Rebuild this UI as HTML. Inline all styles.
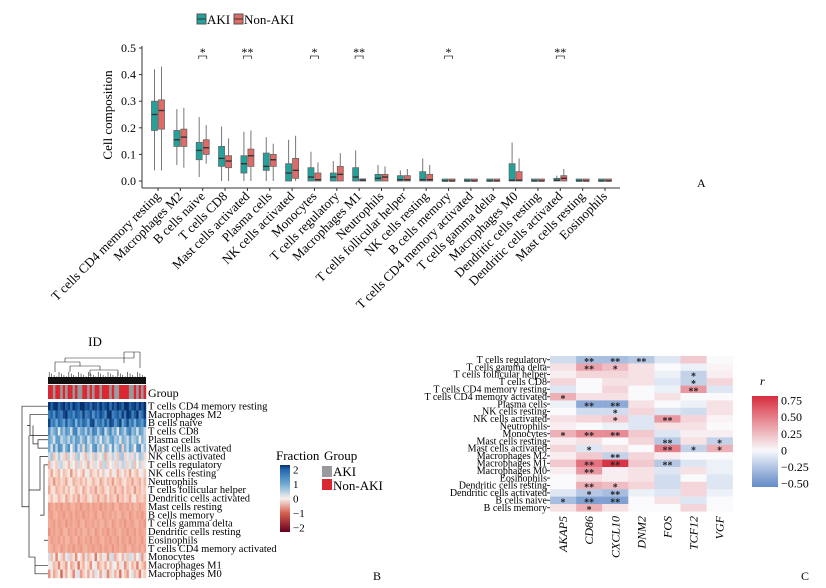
<!DOCTYPE html>
<html><head><meta charset="utf-8"><style>
body{margin:0;background:#fff}
svg{display:block;font-family:"Liberation Serif",serif}
</style></head><body>
<svg id="fig" width="826" height="588" viewBox="0 0 826 588">
<g id="pa"></g>
<g id="pb"></g>
<g id="pc"></g>
</svg>
<script>
// ---------- Panel A data ----------
const catsA=["T cells CD4 memory resting","Macrophages M2","B cells naive","T cells CD8","Mast cells activated","Plasma cells","NK cells activated","Monocytes","T cells regulatory","Macrophages M1","Neutrophils","T cells follicular helper","NK cells resting","B cells memory","T cells CD4 memory activated","T cells gamma delta","Macrophages M0","Dendritic cells resting","Dendritic cells activated","Mast cells resting","Eosinophils"];
// [min,q1,median,q3,max]
const akiBox=[[.04,.19,.25,.30,.42],[.06,.13,.155,.19,.27],[.015,.08,.115,.145,.24],[0,.055,.085,.13,.205],[0,.03,.065,.095,.185],[0,.04,.055,.105,.165],[0,0,.03,.065,.155],[0,0,.015,.05,.11],[0,0,.015,.03,.075],[0,0,.015,.05,.115],[0,0,.01,.025,.06],[0,0,.005,.02,.04],[0,0,.005,.035,.085],[0,0,0,.002,.002],[0,0,0,.002,.002],[0,0,0,.002,.002],[0,0,.003,.065,.145],[0,0,0,.002,.002],[0,0,.003,.01,.02],[0,0,0,.002,.002],[0,0,0,.002,.002]];
const nonBox=[[.04,.195,.265,.305,.43],[.05,.13,.165,.195,.275],[.065,.10,.125,.155,.21],[0,.05,.075,.095,.16],[0,.055,.095,.12,.19],[0,.055,.08,.10,.14],[0,.01,.04,.085,.17],[0,0,.005,.03,.07],[0,0,.025,.055,.105],[0,0,.003,.008,.01],[0,0,.015,.025,.055],[0,0,.005,.02,.045],[0,0,.005,.025,.06],[0,0,0,.002,.002],[0,0,0,.002,.002],[0,0,0,.002,.002],[0,0,.003,.035,.085],[0,0,0,.002,.002],[0,0,.01,.02,.045],[0,0,0,.002,.002],[0,0,0,.002,.002]];
const sigA=["","","*","","**","","","*","","**","","","","*","","","","","**","",""];
const yTicksA=[0,0.1,0.2,0.3,0.4,0.5];

// ---------- Panel B data ----------
const rowsB=["T cells CD4 memory resting","Macrophages M2","B cells naive","T cells CD8","Plasma cells","Mast cells activated","NK cells activated","T cells regulatory","NK cells resting","Neutrophils","T cells follicular helper","Dendritic cells activated","Mast cells resting","B cells memory","T cells gamma delta","Dendritic cells resting","Eosinophils","T cells CD4 memory activated","Monocytes","Macrophages M1","Macrophages M0"];
const rowMeanB=[2.1,1.8,1.5,0.8,0.6,0.5,0.0,-0.1,-0.3,-0.4,-0.4,-0.4,-0.6,-0.6,-0.6,-0.6,-0.6,-0.6,-0.3,-0.4,-0.4];
const rowSpreadB=[0.3,0.5,0.7,0.8,0.6,0.9,0.6,0.5,0.4,0.3,0.3,0.3,0.1,0.1,0.1,0.1,0.1,0.1,0.6,0.5,0.6];
const colDevB=[0.8,-0.3,0.5,1,-0.6,0.2,0.9,-0.2,0.4,-0.8,0.6,0.1,-0.4,0.7,1,-0.1,0.3,-0.7,0.5,0.2,-0.5,0.8,-0.3,0.1,0.6,-0.9,0.4,-0.2,0.7,0.3,-0.6,0.9,1,-0.4,0.2,0.5,-0.3,0.8,-0.1,1];
const groupB=[1,1,0,1,1,0,1,0,1,1,0,1,0,0,1,1,0,1,0,1,1,0,1,1,1,0,1,0,0,1,1,1,1,0,0,1,0,1,0,1];
const cbTicksB=[2,1,0,-1,-2];

// ---------- Panel C data ----------
const rowsC=["T cells regulatory","T cells gamma delta","T cells follicular helper","T cells CD8","T cells CD4 memory resting","T cells CD4 memory activated","Plasma cells","NK cells resting","NK cells activated","Neutrophils","Monocytes","Mast cells resting","Mast cells activated","Macrophages M2","Macrophages M1","Macrophages M0","Eosinophils","Dendritic cells resting","Dendritic cells activated","B cells naive","B cells memory"];
const genesC=["AKAP5","CD86","CXCL10","DNM2","FOS","TCF12","VGF"];
const rC=[[-.15,-.3,-.3,-.25,-.1,.2,0],[.1,.35,.25,.1,0,-.05,.03],[.05,.15,.15,.1,-.05,-.2,.05],[.15,0,.1,.1,-.1,-.2,.15],[-.1,0,.15,0,-.05,.4,-.1],[.3,.1,.1,0,.1,0,0],[-.05,-.4,-.4,.1,0,-.05,.1],[0,-.15,-.15,.15,-.1,-.15,.1],[.1,.15,.2,-.1,.4,.15,.03],[.05,0,-.05,-.1,.1,.1,0],[.3,.45,.45,.2,-.1,.05,.05],[.05,.1,0,.15,-.25,.1,-.2],[.15,-.1,.1,0,.5,-.2,.3],[.05,.2,-.2,.15,.05,0,0],[.2,.55,.8,.2,-.25,-.1,-.05],[.05,.4,.05,.1,-.1,.1,-.05],[0,.1,.05,.1,-.15,0,-.1],[0,.3,.25,.15,-.15,.15,-.1],[-.1,-.25,-.3,-.05,-.1,.15,-.05],[-.3,-.45,-.45,0,.1,-.1,0],[.1,.3,.1,0,0,.15,0]];
const starsC=[["","**","**","**","","",""],["","**","*","","","",""],["","","","","","*",""],["","","","","","*",""],["","","","","","**",""],["*","","","","","",""],["","**","**","","","",""],["","","*","","","",""],["","","*","","**","",""],["","","","","","",""],["*","**","**","","","",""],["","","","","**","","*"],["","*","","","**","*","*"],["","","**","","","",""],["","**","**","","**","",""],["","**","","","","",""],["","","","","","",""],["","**","*","","","",""],["","*","**","","","",""],["*","**","**","","","",""],["","*","","","","",""]];
const cbTicksC=[0.75,0.5,0.25,0,-0.25,-0.5];

const NS="http://www.w3.org/2000/svg";
function mk(tag,attrs,parent,txt){const e=document.createElementNS(NS,tag);for(const k in attrs)e.setAttribute(k,attrs[k]);if(txt!==undefined)e.textContent=txt;parent.appendChild(e);return e;}
function lerp(a,b,t){return a.map((v,i)=>Math.round(v+(b[i]-v)*t));}
function rgb(c){return "rgb("+c.join(",")+")";}

// ===== Panel A =====
(function(){
const g=document.getElementById('pa');
const y0=181,pxPer=266,x0=158,step=22.35;
const yA=v=>y0-v*pxPer, xA=i=>x0+i*step;
const lg=mk('g',{},g);
mk('rect',{x:197,y:14,width:9,height:10,fill:'#22a29b',stroke:'#555'},lg);
mk('line',{x1:197,x2:206,y1:19,y2:19,stroke:'#333'},lg);
mk('text',{x:207,y:24,'font-size':13},lg,'AKI');
mk('rect',{x:234,y:14,width:9,height:10,fill:'#e06a66',stroke:'#555'},lg);
mk('line',{x1:234,x2:243,y1:19,y2:19,stroke:'#333'},lg);
mk('text',{x:244,y:24,'font-size':13},lg,'Non-AKI');
const ax=mk('line',{x1:142,y1:46,x2:142,y2:188,stroke:'#333'},g);
const bx=mk('line',{x1:142,y1:188,x2:620,y2:188,stroke:'#333'},g);
mk('text',{x:697,y:187,'font-size':12},g,'A');
yTicksA.forEach(v=>{mk('line',{x1:139,x2:142,y1:yA(v),y2:yA(v),stroke:'#333'},g);
 const t=mk('text',{x:136,y:yA(v)+4,'text-anchor':'end','font-size':12},g,v.toFixed(1));});
const yt=mk('text',{transform:'translate(112,115) rotate(-90)','text-anchor':'middle','font-size':13},g,'Cell composition');
function box(cx,b,fill,name){
 const bg=mk('g',{},g);
 mk('line',{x1:cx,x2:cx,y1:yA(b[0]),y2:yA(b[4]),stroke:'#777','stroke-width':1},bg);
 const h=Math.max(2,yA(b[1])-yA(b[3]));
 mk('rect',{x:cx-3,y:yA(b[1])-h,width:6,height:h,fill:fill,stroke:'#666','stroke-width':.8},bg);
 mk('line',{x1:cx-3,x2:cx+3,y1:yA(b[2]),y2:yA(b[2]),stroke:'#333','stroke-width':1.4},bg);
}
catsA.forEach((c,i)=>{
 const cx=xA(i);
 box(cx-3.5,akiBox[i],'#22a29b','box-aki');
 box(cx+3.5,nonBox[i],'#e06a66','box-non-aki');
 mk('line',{x1:cx,x2:cx,y1:188,y2:191,stroke:'#333'},g);
 const t=mk('text',{transform:`translate(${cx+3},${197}) rotate(-45)`,'text-anchor':'end','font-size':13},g,c);
 
 if(sigA[i]){
  const s=mk('g',{},g);
  mk('path',{d:`M${cx-4},59 V56 H${cx+4} V59`,fill:'none',stroke:'#333','stroke-width':.8},s);
  mk('text',{x:cx,y:56,'text-anchor':'middle','font-size':12},s,sigA[i]);
 }
});
})();

// ===== Panel B =====
(function(){
const g=document.getElementById('pb');
const left=48,right=146,top=402,bottom=578;
const nC=colDevB.length,nR=rowsB.length;
const cw=(right-left)/nC,rh=(bottom-top)/nR;
function colB(v){v=Math.max(-2.3,Math.min(2.3,v));
 const stops=[[-2.3,[103,0,31]],[-1,[214,96,77]],[-0.5,[244,180,160]],[0,[247,240,238]],[1,[110,170,210]],[2,[33,102,172]],[2.3,[8,48,107]]];
 for(let i=0;i<stops.length-1;i++){if(v<=stops[i+1][0]){const t=(v-stops[i][0])/(stops[i+1][0]-stops[i][0]);return rgb(lerp(stops[i][1],stops[i+1][1],t));}}
 return rgb(stops[stops.length-1][1]);}
mk('text',{x:95,y:346,'text-anchor':'middle','font-size':13},g,'ID');
const dg=mk('g',{stroke:'#222','stroke-width':.6,fill:'none'},g);
mk('path',{d:'M65,358 H134 M65,358 V362 M134,358 V352 M124,352 H140 M124,352 V363 M140,352 V368 M55,362 H80 M55,362 V372 M80,362 V366 M70,366 H100 M70,366 V372 M100,366 V370 M90,370 H118 M90,370 V376 M118,370 V376'},dg);
for(let i=0;i<nC;i++){const x=left+(i+0.5)*cw;mk('line',{x1:x,x2:x,y1:372+(i%4)*1.5,y2:384},dg);}
mk('rect',{x:left,y:377,width:right-left,height:7,fill:'#111',stroke:'none'},dg);
for(let i=0;i<nC;i++){const r=mk('rect',{x:left+i*cw,y:385,width:cw+0.2,height:14,fill:groupB[i]?'#d9282f':'#9a9a9e'},g);
 }
mk('text',{x:148,y:397,'font-size':12},g,'Group');
rowsB.forEach((rn,r)=>{
 for(let c=0;c<nC;c++){const v=rowMeanB[r]+rowSpreadB[r]*colDevB[(c+r*7)%nC];
  const e=mk('rect',{x:left+c*cw,y:top+r*rh,width:cw+0.2,height:rh+0.2,fill:colB(v)},g);
  }
 const t=mk('text',{x:148,y:top+r*rh+rh-1,'font-size':10.5},g,rn);
});
const rd=mk('g',{stroke:'#222','stroke-width':.7,fill:'none'},g);
const ry=i=>top+(i+0.5)*rh;
mk('path',{d:`M48,${ry(0)} H22 V${ry(12)} H29 M48,${ry(1)} H30 V${ry(3.5)} H48 M30,${ry(2.3)} H27 M48,${ry(4)} H38 V${ry(5)} H48 M38,${ry(4.5)} H33 V${ry(2.3)} M29,${ry(3.5)} V${ry(18)} H35 V${ry(20)} H48 M35,${ry(19)} H48 M29,${ry(10)} H40 V${ry(6)} H48 M40,${ry(13)} H44 V${ry(7)} H48 M44,${ry(16)} H48`},rd);
mk('text',{x:276,y:460,'font-size':13},g,'Fraction');
mk('text',{x:324,y:460,'font-size':13},g,'Group');
const grad=mk('defs',{},g);const lgB=mk('linearGradient',{id:'gB',x1:0,y1:0,x2:0,y2:1},grad);
[2.3,2,1,0,-1,-2,-2.3].forEach((v,i,a)=>mk('stop',{offset:((2.3-v)/4.6),'stop-color':colB(v)},lgB));
const cb=mk('rect',{x:280,y:465,width:10,height:67,fill:'url(#gB)'},g);
cbTicksB.forEach(v=>{const y=498.5-v*14.6;mk('text',{x:293,y:y+4,'font-size':11},g,v<0?'\u2212'+Math.abs(v):String(v));});
mk('rect',{x:322,y:466,width:10,height:11,fill:'#9a9a9e'},g);
mk('text',{x:333,y:476,'font-size':13},g,'AKI');
mk('rect',{x:322,y:479,width:10,height:11,fill:'#d9282f'},g);
mk('text',{x:333,y:490,'font-size':13},g,'Non-AKI');
mk('text',{x:373,y:580,'font-size':12},g,'B');
})();

// ===== Panel C =====
(function(){
const g=document.getElementById('pc');
const left=550,top=356,cw=26.1,rh=7.4;
function colC(v){if(v>=0)return rgb(lerp([250,250,252],[214,40,57],Math.min(1,v/0.85)));return rgb(lerp([250,250,252],[100,140,200],Math.min(1,-v/0.55)));}
rowsC.forEach((rn,r)=>{
 genesC.forEach((gn,c)=>{
  const e=mk('rect',{x:left+c*cw,y:top+r*rh,width:cw+0.2,height:rh+0.2,fill:colC(rC[r][c])},g);
  
  if(starsC[r][c])mk('text',{x:left+(c+0.5)*cw,y:top+r*rh+rh+1.5,'text-anchor':'middle','font-size':10,'font-weight':'bold',fill:'#222'},g,starsC[r][c]);
 });
 mk('line',{x1:left-3,x2:left,y1:top+(r+.5)*rh,y2:top+(r+.5)*rh,stroke:'#333'},g);
 const t=mk('text',{x:left-3,y:top+r*rh+rh-0.5,'text-anchor':'end','font-size':10},g,rn);
});
genesC.forEach((gn,c)=>{const x=left+(c+0.5)*cw;
 const t=mk('text',{transform:`translate(${x+4},${516}) rotate(-90)`,'text-anchor':'end','font-size':12,'font-style':'italic'},g,gn);
 });
mk('text',{x:760,y:385,'font-size':12,'font-style':'italic'},g,'r');
const d=mk('defs',{},g);const lgC=mk('linearGradient',{id:'gC',x1:0,y1:0,x2:0,y2:1},d);
for(let i=0;i<=10;i++){const v=0.83-i*0.14;mk('stop',{offset:i/10,'stop-color':colC(v)},lgC);}
const cb=mk('rect',{x:752,y:396,width:26,height:91,fill:'url(#gC)'},g);
const yC=v=>400.5+(0.75-v)*66.5;
cbTicksC.forEach(v=>{const s=v<0?'\u2212'+Math.abs(v).toFixed(2):(v===0?'0':v.toFixed(2));mk('text',{x:781,y:yC(v)+4,'font-size':12},g,s);});
mk('text',{x:801,y:580,'font-size':12},g,'C');
})();
</script>
</body></html>
